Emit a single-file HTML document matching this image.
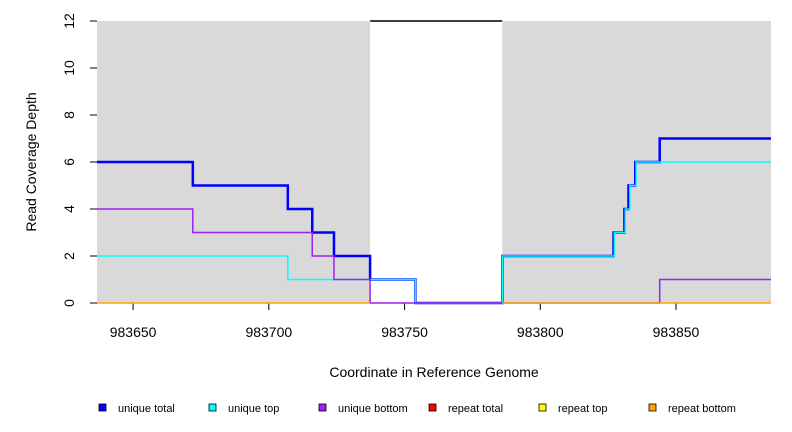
<!DOCTYPE html>
<html><head><meta charset="utf-8"><style>
body{margin:0;background:#fff;}
svg{display:block;font-family:"Liberation Sans",Arial,sans-serif;}
</style></head><body>
<svg id="chart" width="792" height="432" viewBox="0 0 792 432">
<g id="bg"></g>
<g id="axes"></g>
<g id="series"></g>
<text x="434" y="377" font-size="14" text-anchor="middle">Coordinate in Reference Genome</text>
<text transform="translate(36,162) rotate(-90)" font-size="14" text-anchor="middle">Read Coverage Depth</text>
<g id="legend"></g>
</svg>
<script>
const xMin = 983636.7, xMax = 983885;
const yMin = 0, yMax = 12;
const xTicks = [983650, 983700, 983750, 983800, 983850];
const yTicks = [0, 2, 4, 6, 8, 10, 12];
const grayRegions = [[983636.7, 983737.3], [983786, 983885]];
const gapRegion = [983737.3, 983786];
const uniqueTotalX = [983636.7, 983672, 983707, 983716, 983724, 983737.3, 983754, 983786, 983827, 983831, 983832.5, 983835, 983844, 983885];
const uniqueTotalY = [6, 5, 4, 3, 2, 1, 0, 2, 3, 4, 5, 6, 7];
const uniqueTopX = [983636.7, 983707, 983754, 983786, 983827.3, 983831.3, 983833, 983835.3, 983885];
const uniqueTopY = [2, 1, 0, 2, 3, 4, 5, 6];
const uniqueBottomX = [983636.7, 983672, 983716, 983724, 983737.3, 983844, 983885];
const uniqueBottomY = [4, 3, 2, 1, 0, 1];
const legendLabels = ["unique total", "unique top", "unique bottom", "repeat total", "repeat top", "repeat bottom"];
const legendColors = ["#0000ff", "#00ffff", "#a020f0", "#ff0000", "#ffff00", "#ffa500"];

const L = 97, R = 771, T = 21, B = 303;
const sx = v => L + (v - xMin) / (xMax - xMin) * (R - L);
const sy = v => B - (v - yMin) / (yMax - yMin) * (B - T);
const NS = "http://www.w3.org/2000/svg";
function mk(tag, attrs, parent) {
  const e = document.createElementNS(NS, tag);
  for (const k in attrs) e.setAttribute(k, attrs[k]);
  parent.appendChild(e);
  return e;
}
const bg = document.getElementById('bg');
grayRegions.forEach(g => {
  const r = mk('rect', {x: sx(g[0]), y: T, width: sx(g[1]) - sx(g[0]), height: B - T, fill: '#d9d9d9'}, bg);
  
  
});
const gl = mk('line', {x1: sx(gapRegion[0]), x2: sx(gapRegion[1]), y1: T, y2: T, stroke: '#000', 'stroke-width': 1.5}, bg);



const ax = document.getElementById('axes');
xTicks.forEach(t => {
  const l = mk('line', {x1: sx(t), x2: sx(t), y1: B, y2: B + 7, stroke: '#000'}, ax);
  
  
  const tx = mk('text', {x: sx(t), y: 337, 'font-size': 14, 'text-anchor': 'middle'}, ax);
  tx.textContent = t;
  
  
});
yTicks.forEach(t => {
  const l = mk('line', {x1: L - 7, x2: L, y1: sy(t), y2: sy(t), stroke: '#000'}, ax);
  
  
  const tx = mk('text', {x: 0, y: 0, 'font-size': 14, 'text-anchor': 'middle', transform: `translate(74,${sy(t)}) rotate(-90)`}, ax);
  tx.textContent = t;
  
  
});

const se = document.getElementById('series');
function stepPath(xs, ys) {
  let d = `M${sx(xs[0])},${sy(ys[0])}`;
  for (let i = 0; i < ys.length; i++) {
    d += ` L${sx(xs[i + 1])},${sy(ys[i])}`;
    if (i + 1 < ys.length) d += ` L${sx(xs[i + 1])},${sy(ys[i + 1])}`;
  }
  return d;
}
const p1 = mk('path', {d: stepPath(uniqueTotalX, uniqueTotalY), fill: 'none', stroke: '#0000ff', 'stroke-width': 2.5}, se);


const p2 = mk('path', {d: stepPath(uniqueTopX, uniqueTopY), fill: 'none', stroke: '#00ffff', 'stroke-width': 1.5}, se);


const p3 = mk('path', {d: stepPath(uniqueBottomX, uniqueBottomY), fill: 'none', stroke: '#a020f0', 'stroke-width': 1.5}, se);


grayRegions.forEach(g => {
  const l = mk('line', {x1: sx(g[0]), x2: sx(g[1]), y1: sy(0), y2: sy(0), stroke: '#ffa500', 'stroke-width': 1.5}, se);
  
  
});

const lg = document.getElementById('legend');
legendLabels.forEach((lab, i) => {
  const x0 = 99 + i * 110;
  const r = mk('rect', {x: x0, y: 404, width: 7, height: 7, fill: legendColors[i], stroke: '#000', 'stroke-width': 0.8}, lg);
  
  
  const t = mk('text', {x: x0 + 19, y: 412, 'font-size': 11}, lg);
  t.textContent = lab;
  
  
});
</script>
</body></html>
